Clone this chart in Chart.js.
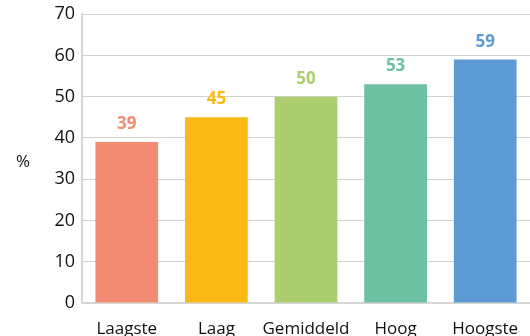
<!DOCTYPE html>
<html>
<head>
<meta charset="utf-8">
<script src="https://cdn.jsdelivr.net/npm/chart.js@4/dist/chart.umd.min.js"></script>
<style>
  html, body { margin: 0; padding: 0; background: #fff; }
  #chart { display: block; }
</style>
</head>
<body>
<canvas id="chart" width="530" height="336"></canvas>
<script>
const categories = ['Laagste', 'Laag', 'Gemiddeld', 'Hoog', 'Hoogste'];
const values = [39, 45, 50, 53, 59];
const barColors = ['#F28C72', '#FBB916', '#ADCE6E', '#6CC1A3', '#5E9BD4'];
const yTicks = [0, 10, 20, 30, 40, 50, 60, 70];

const FONT = "'Open Sans', 'Noto Sans', sans-serif";

// value labels above each bar, plus the unit sign left of the axis
const labelsPlugin = {
    id: 'barLabels',
    afterDatasetsDraw(chart) {
        const ctx = chart.ctx;
        const meta = chart.getDatasetMeta(0);
        ctx.save();
        ctx.font = 'bold 17px ' + FONT;
        ctx.textAlign = 'center';
        ctx.textBaseline = 'alphabetic';
        meta.data.forEach((bar, i) => {
            ctx.fillStyle = barColors[i];
            ctx.fillText(values[i], bar.x, bar.y - 13);
        });
        ctx.fillStyle = '#111';
        ctx.font = '17px ' + FONT;
        ctx.fillText('%', 23, 167);
        ctx.restore();
    }
};

new Chart(document.getElementById('chart'), {
    type: 'bar',
    data: {
        labels: categories,
        datasets: [{
            data: values,
            backgroundColor: barColors,
            barPercentage: 0.7,
            categoryPercentage: 1
        }]
    },
    options: {
        responsive: false,
        animation: false,
        layout: { padding: { top: 2, right: 0, left: 0, bottom: 0 } },
        plugins: {
            legend: { display: false },
            tooltip: { enabled: false }
        },
        scales: {
            x: {
                grid: { display: false },
                border: { color: '#d6d6d6', width: 2 },
                ticks: {
                    color: '#111',
                    font: { family: FONT, size: 17 },
                    padding: 8,
                    autoSkip: false,
                    maxRotation: 0
                },
                afterFit: s => { s.height = 33; }
            },
            y: {
                min: 0,
                max: 70,
                afterBuildTicks: s => { s.ticks = yTicks.map(v => ({ value: v })); },
                grid: { color: '#d2d2d2', lineWidth: 1, drawTicks: false },
                border: { color: '#d6d6d6', width: 2 },
                ticks: {
                    color: '#111',
                    font: { family: FONT, size: 18, lineHeight: 0.8 },
                    padding: 7
                },
                afterFit: s => { s.width = 82; }
            }
        }
    },
    plugins: [labelsPlugin]
});
</script>
</body>
</html>
